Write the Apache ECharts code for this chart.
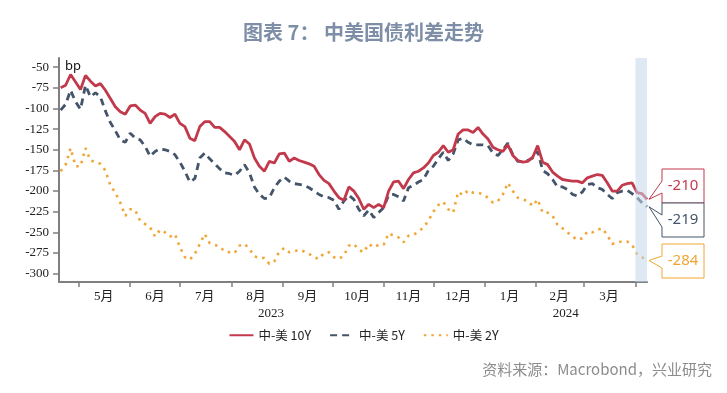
<!DOCTYPE html>
<html><head><meta charset="utf-8">
<script src="https://cdn.jsdelivr.net/npm/echarts@6/dist/echarts.min.js"></script>
<style>html,body{margin:0;padding:0;background:#fff}#c{width:727px;height:393px}</style>
</head><body><div id="c"></div>
<script>
const dates = ['2023-04-20','2023-04-23','2023-04-26','2023-04-29',
'2023-05-02','2023-05-05','2023-05-08','2023-05-11','2023-05-14','2023-05-17','2023-05-20','2023-05-23','2023-05-26','2023-05-29',
'2023-06-01','2023-06-04','2023-06-07','2023-06-10','2023-06-13','2023-06-16','2023-06-19','2023-06-22','2023-06-25','2023-06-28',
'2023-07-01','2023-07-04','2023-07-07','2023-07-10','2023-07-13','2023-07-16','2023-07-19','2023-07-22','2023-07-25','2023-07-28','2023-07-31',
'2023-08-03','2023-08-06','2023-08-09','2023-08-12','2023-08-15','2023-08-18','2023-08-21','2023-08-24','2023-08-27','2023-08-30',
'2023-09-02','2023-09-05','2023-09-08','2023-09-11','2023-09-14','2023-09-17','2023-09-20','2023-09-23','2023-09-26','2023-09-29',
'2023-10-02','2023-10-05','2023-10-08','2023-10-11','2023-10-14','2023-10-17','2023-10-20','2023-10-23','2023-10-26','2023-10-29',
'2023-11-01','2023-11-04','2023-11-07','2023-11-10','2023-11-13','2023-11-16','2023-11-19','2023-11-22','2023-11-25','2023-11-28',
'2023-12-01','2023-12-04','2023-12-07','2023-12-10','2023-12-13','2023-12-16','2023-12-19','2023-12-22','2023-12-25','2023-12-28','2023-12-31',
'2024-01-03','2024-01-06','2024-01-09','2024-01-12','2024-01-15','2024-01-18','2024-01-21','2024-01-24','2024-01-27','2024-01-30',
'2024-02-02','2024-02-05','2024-02-08','2024-02-11','2024-02-14','2024-02-17','2024-02-20','2024-02-23','2024-02-26','2024-02-29',
'2024-03-03','2024-03-06','2024-03-09','2024-03-12','2024-03-15','2024-03-18','2024-03-21','2024-03-24','2024-03-27','2024-03-30',
'2024-04-02','2024-04-05','2024-04-08'];

const spread10Y = [-75,-72,-59,-68,-77,-60,-67,-73,-70,-78,
-88,-98,-104,-107,-97,-96,-102,-106,-118,-110,
-106,-107,-111,-107,-118,-122,-136,-139,-122,-116,
-116,-123,-123,-128,-134,-140,-150,-138,-143,-160,
-170,-176,-164,-166,-155,-154,-164,-160,-163,-165,
-167,-170,-180,-187,-191,-200,-208,-211,-195,-200,
-209,-222,-216,-220,-216,-220,-200,-189,-188,-197,
-186,-178,-176,-172,-166,-157,-153,-145,-153,-150,
-131,-126,-126,-129,-123,-131,-137,-147,-150,-152,
-144,-157,-163,-165,-164,-159,-145,-165,-168,-177,
-182,-186,-187,-188,-188,-190,-184,-182,-180,-181,
-190,-200,-200,-193,-191,-190,-202,-203,-210];

const spread5Y = [-102,-95,-78,-92,-101,-72,-86,-81,-86,-103,
-117,-127,-138,-141,-130,-136,-138,-146,-158,-152,
-149,-150,-152,-156,-165,-176,-189,-185,-160,-154,
-161,-167,-173,-178,-179,-181,-176,-168,-178,-195,
-204,-209,-208,-196,-188,-183,-188,-191,-192,-193,
-196,-200,-204,-207,-208,-211,-222,-212,-205,-210,
-222,-230,-223,-232,-226,-220,-205,-204,-207,-212,
-196,-193,-189,-186,-175,-170,-161,-153,-163,-155,
-138,-136,-141,-144,-144,-144,-145,-154,-157,-150,
-142,-156,-164,-164,-163,-160,-152,-175,-179,-186,
-195,-195,-198,-204,-206,-201,-192,-191,-196,-198,
-204,-209,-202,-200,-199,-203,-208,-214,-219];

const spread2Y = [-176,-168,-148,-170,-170,-148,-163,-165,-167,-175,
-193,-202,-214,-230,-222,-223,-236,-240,-244,-255,
-247,-250,-255,-252,-268,-280,-283,-276,-264,-252,
-263,-265,-267,-273,-274,-275,-266,-264,-270,-279,
-281,-281,-288,-285,-273,-269,-274,-273,-271,-273,
-276,-280,-282,-275,-274,-280,-282,-278,-266,-264,
-271,-274,-264,-268,-265,-265,-251,-254,-256,-262,
-254,-253,-249,-244,-236,-225,-217,-213,-222,-226,
-201,-205,-199,-202,-202,-204,-208,-214,-212,-204,
-190,-200,-208,-210,-212,-218,-210,-226,-226,-230,
-241,-245,-250,-255,-259,-257,-249,-250,-247,-245,
-253,-264,-262,-261,-261,-265,-276,-280,-284];

const seriesNames = ['中-美 10Y', '中-美 5Y', '中-美 2Y'];
const monthTicks = ['2023-05-01','2023-06-01','2023-07-01','2023-08-01','2023-09-01','2023-10-01','2023-11-01','2023-12-01','2024-01-01','2024-02-01','2024-03-01','2024-04-01'];
const monthLabelDates = ['2023-05-16','2023-06-16','2023-07-16','2023-08-16','2023-09-16','2023-10-16','2023-11-16','2023-12-16','2024-01-16','2024-02-15','2024-03-16'];
const yearLabelDates = ['2023-08-25','2024-02-19'];
const yTicks = [-300,-275,-250,-225,-200,-175,-150,-125,-100,-75,-50];
const xRange = ['2023-04-19','2024-04-08'];
const shadeRange = ['2024-04-01','2024-04-08'];

const C10 = '#c3394c', C5 = '#44546a', C2 = '#f0a637';
const AX = '#7f7f7f';

function ts(s){ const p = s.split('-'); return new Date(+p[0], +p[1]-1, +p[2]).getTime(); }
function pairs(vals){ return dates.map((d,i)=>[ts(d), vals[i]]); }

const chart = echarts.init(document.getElementById('c'), null, {renderer:'canvas'});
const serifFont = "'Liberation Serif','Noto Sans CJK SC',serif";

chart.setOption({
  animation: false,
  backgroundColor: '#fff',
  title: [
    {text: '图表 7： 中美国债利差走势', left: 'center', top: 17,
     textStyle: {fontSize: 20, fontWeight: 'bold', color: '#7d8ea6', fontFamily: "'Noto Sans CJK SC'"}},
    {text: '资料来源：Macrobond，兴业研究', right: 10, bottom: 11,
     textStyle: {fontSize: 15, fontWeight: 'normal', color: '#8c8c8c', fontFamily: "'Noto Sans CJK SC'"}}
  ],
  grid: {left: 59, right: 80, top: 58, bottom: 111, containLabel: false},
  legend: {
    data: seriesNames, left: 'center', top: 324, itemWidth: 24, itemHeight: 12, itemGap: 18,
    itemStyle: {opacity: 0},
    textStyle: {fontSize: 12.5, color: '#222', fontFamily: "'Noto Sans CJK SC'"}
  },
  xAxis: [
    {type: 'value', min: ts(xRange[0]), max: ts(xRange[1]),
     axisLine: {show: true, onZero: false, lineStyle: {color: AX, width: 2}},
     axisTick: {show: true, customValues: monthTicks.map(ts), length: 5, lineStyle: {color: AX, width: 1.5}},
     axisLabel: {customValues: monthLabelDates.map(ts), margin: 8, fontSize: 13, color: '#222', fontFamily: serifFont,
       formatter: v => (new Date(v).getMonth() + 1) + '月'},
     splitLine: {show: false}},
    {type: 'value', min: ts(xRange[0]), max: ts(xRange[1]), position: 'bottom', offset: 17,
     axisLine: {show: false, onZero: false}, axisTick: {show: false},
     axisLabel: {customValues: yearLabelDates.map(ts), margin: 8, fontSize: 13, color: '#222', fontFamily: serifFont,
       formatter: v => String(new Date(v).getFullYear())},
     splitLine: {show: false}}
  ],
  yAxis: {
    type: 'value', min: -310, max: -39,
    name: 'bp', nameLocation: 'end', nameGap: -8,
    nameTextStyle: {align: 'left', verticalAlign: 'middle', padding: [0,0,0,6], fontSize: 13, color: '#111', fontFamily: "'Noto Sans'"},
    axisLine: {show: true, lineStyle: {color: AX, width: 2}},
    axisTick: {show: true, customValues: yTicks, length: 6, lineStyle: {color: AX, width: 1.5}},
    axisLabel: {customValues: yTicks, margin: 10, fontSize: 13, color: '#222', fontFamily: serifFont},
    splitLine: {show: false}
  },
  series: [
    {name: seriesNames[0], type: 'line', data: pairs(spread10Y), symbol: 'none', z: 5,
     lineStyle: {color: C10, width: 2.8}, itemStyle: {color: C10},
     markArea: {silent: true, z: 10, itemStyle: {color: 'rgba(197,215,233,0.55)'},
       data: [[{xAxis: ts(shadeRange[0])}, {xAxis: ts(shadeRange[1])}]]}},
    {name: seriesNames[1], type: 'line', data: pairs(spread5Y), symbol: 'none', z: 4,
     lineStyle: {color: C5, width: 2.8, type: [7, 5]}, itemStyle: {color: C5}},
    {name: seriesNames[2], type: 'line', data: pairs(spread2Y), symbol: 'none', z: 3,
     lineStyle: {color: C2, width: 2.6, type: [2.5, 5]}, itemStyle: {color: C2}}
  ]
});

// callout boxes pointing to the last value of each series
const lastIdx = dates.length - 1;
const callouts = [
  {vals: spread10Y, color: C10, top: 169},
  {vals: spread5Y, color: C5, top: 203},
  {vals: spread2Y, color: C2, top: 244}
];
const boxL = 662, boxW = 42, boxH = 34;
const graphics = [];
callouts.forEach(c => {
  const v = c.vals[lastIdx];
  const p = chart.convertToPixel({xAxisIndex: 0, yAxisIndex: 0}, [ts(dates[lastIdx]), v]);
  const L = boxL, R = boxL + boxW, T = c.top, B = c.top + boxH;
  graphics.push({
    type: 'polygon', z: 20,
    shape: {points: [[L,T],[R,T],[R,B],[L,B],[L,T+24],[p[0]+2,p[1]],[L,T+12]]},
    style: {fill: '#fff', stroke: c.color, lineWidth: 1}
  });
  graphics.push({
    type: 'text', z: 21, x: L + boxW/2, y: T + boxH/2,
    style: {text: String(v), fill: c.color, fontSize: 15, fontFamily: "'Noto Sans'", align: 'center', verticalAlign: 'middle'}
  });
});
chart.setOption({graphic: graphics});
</script>
</body></html>
